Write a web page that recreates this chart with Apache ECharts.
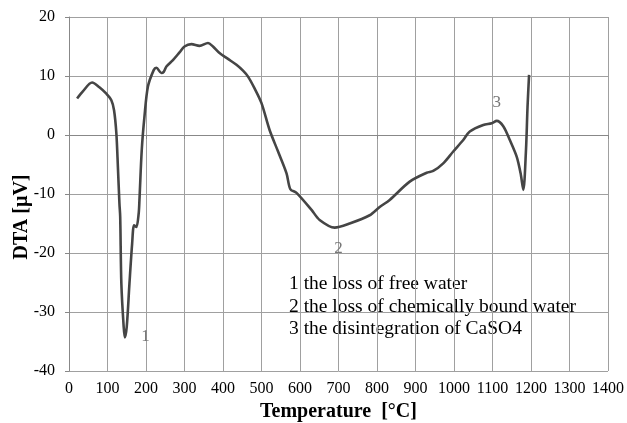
<!DOCTYPE html>
<html>
<head>
<meta charset="utf-8">
<script src="https://cdn.jsdelivr.net/npm/echarts@6/dist/echarts.min.js"></script>
<style>
  html, body { margin: 0; padding: 0; background: #fff; }
  #chart { width: 627px; height: 423px; }
</style>
</head>
<body>
<div id="chart"></div>
<script>
"use strict";

// temperatura (°C) y señal DTA (µV)
const temps = [21, 36, 60, 79, 97, 110, 117, 123, 127, 131, 133, 136, 142, 145, 150, 157, 164, 169, 175, 181, 183,
  189, 196, 205, 220, 227, 240, 246, 253, 270, 287, 300, 318, 339, 361, 374, 391, 413, 435, 452, 465, 482, 500,
  521, 543, 565, 575, 591, 630, 651, 690, 729, 781, 807, 833, 885, 929, 946, 972, 998, 1024, 1041, 1076, 1098,
  1111, 1128, 1145, 1163, 1173, 1180, 1187, 1191, 1195];
const dta = [6.2, 7.4, 8.9, 8.1, 7.0, 5.9, 4.2, 0.3, -5.4, -11.6, -13.9, -25.2, -32.5, -34.3, -32.5, -25.2, -18.4,
  -15.3, -15.6, -13.3, -11.0, -2.5, 3.1, 8.2, 11.0, 11.4, 10.5, 10.7, 11.6, 12.7, 14.0, 15.0, 15.4, 15.1, 15.6,
  15.0, 13.9, 12.9, 11.9, 10.9, 9.9, 7.9, 5.4, 0.85, -2.8, -6.5, -9.2, -9.8, -12.7, -14.4, -15.7, -15.0, -13.6,
  -12.2, -11.0, -7.9, -6.4, -6.1, -4.8, -2.8, -0.85, 0.6, 1.7, 2.0, 2.4, 1.5, -0.85, -3.7, -6.5, -9.3, -2.5, 4.8, 10.2];

// etiquetas de los picos
const peakNames = ['1', '2', '3'];
const peakX = [199, 700, 1111];
const peakY = [-34.2, -19.2, 5.5];

const notes = [
  '1 the loss of free water',
  '2 the loss of chemically bound water',
  '3 the disintegration of CaSO4'
];

const xTicks = { min: 0, max: 1400, step: 100 };
const yTicks = { min: -40, max: 20, step: 10 };

const serif = '"Liberation Serif", "DejaVu Serif", serif';

var myChart = echarts.init(document.getElementById('chart'), null, { renderer: 'canvas' });

var option = {
  backgroundColor: '#fff',
  animation: false,
  grid: { left: 69, right: 19, top: 17, bottom: 52, outerBoundsMode: 'none', containLabel: false },
  xAxis: {
    type: 'value',
    min: xTicks.min, max: xTicks.max, interval: xTicks.step,
    name: 'Temperature  [°C]',
    nameLocation: 'middle',
    nameGap: 30,
    nameTextStyle: { fontFamily: serif, fontWeight: 'bold', fontSize: 20, color: '#000' },
    axisLine: { lineStyle: { color: '#888' } },
    axisTick: { show: true, length: 4, lineStyle: { color: '#888' } },
    axisLabel: { fontFamily: serif, fontSize: 16, color: '#000', margin: 10, formatter: v => String(v) },
    splitLine: { lineStyle: { color: '#a0a0a0', width: 1 } }
  },
  yAxis: {
    type: 'value',
    min: yTicks.min, max: yTicks.max, interval: yTicks.step,
    name: 'DTA [µV]',
    nameLocation: 'middle',
    nameGap: 37,
    nameMoveOverlap: false,
    nameRotate: 90,
    nameTextStyle: { fontFamily: serif, fontWeight: 'bold', fontSize: 20, color: '#000', padding: [0, 46, 0, 0] },
    axisLine: { show: true, lineStyle: { color: '#888' } },
    axisTick: { show: true, length: 4, lineStyle: { color: '#888' } },
    axisLabel: { fontFamily: serif, fontSize: 16, color: '#000', margin: 14, formatter: v => String(v) },
    splitLine: { lineStyle: { color: '#a0a0a0', width: 1 } }
  },
  series: [{
    type: 'line',
    data: temps.map((t, i) => [t, dta[i]]),
    showSymbol: false,
    smooth: 0.3,
    lineStyle: { color: '#454545', width: 2.6 },
    markPoint: {
      symbol: 'circle',
      symbolSize: 0,
      label: {
        show: true,
        position: 'inside',
        fontFamily: serif,
        fontSize: 17,
        color: '#777',
        formatter: p => p.name
      },
      data: peakNames.map((n, i) => ({ name: n, coord: [peakX[i], peakY[i]] }))
    }
  }],
  graphic: [{
    type: 'text',
    left: 289,
    top: 273,
    style: {
      text: notes.join('\n'),
      font: '19.5px ' + serif,
      fill: '#000',
      lineHeight: 22.5
    }
  }]
};

myChart.setOption(option);
</script>
</body>
</html>
